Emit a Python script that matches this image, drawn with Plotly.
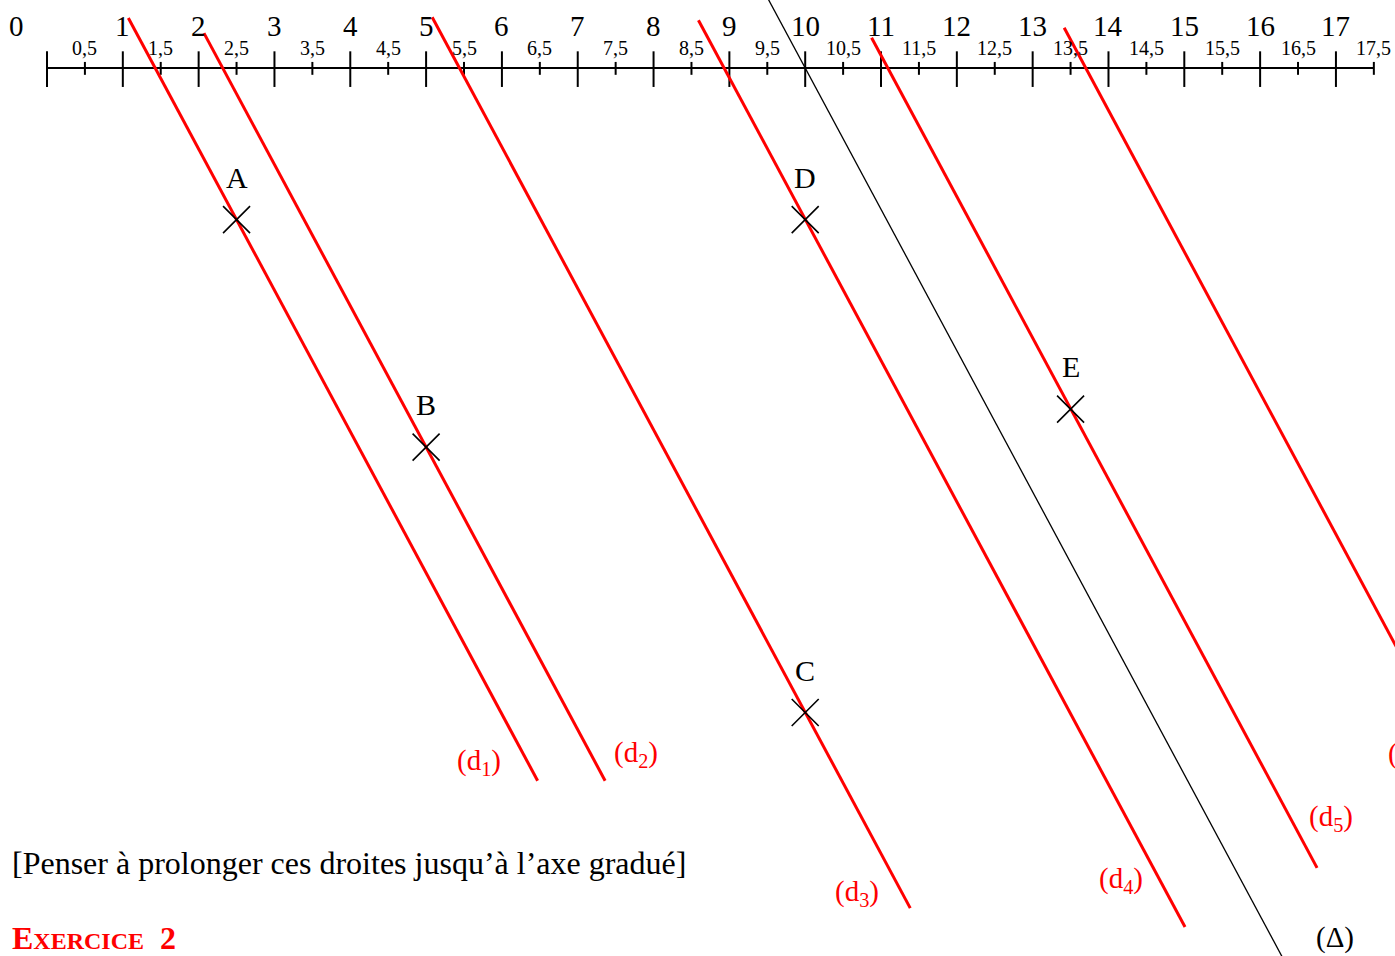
import plotly.graph_objects as go

# ---------------- data (graduation units) ----------------
int_ticks = list(range(0, 18))
int_labels = [str(i) for i in int_ticks]
half_ticks = [i + 0.5 for i in range(0, 18)]
half_labels = [("%g" % h).replace(".", ",") for h in half_ticks]

point_names = ["A", "B", "C", "D", "E"]
point_x = [2.5, 5.0, 10.0, 10.0, 13.5]
point_y = [-2.0, -5.0, -8.5, -2.0, -4.5]

slope_k = 0.5366  # horizontal shift per unit going down (parallel to Delta)

line_names = ["d1", "d2", "d3", "d4", "d5", "d6"]
line_cross = [1.427, 2.317, 5.44, 8.93, 11.09, 13.70]   # crossing on graduated axis
line_top = [0.66, 0.46, 0.67, 0.63, 0.40, 0.53]
line_bottom = [-9.40, -9.40, -11.08, -11.33, -10.55, -12.5]
line_label_x = [5.70, 7.77, 10.68, 14.17, 16.93, 17.66]
line_label_y = [-9.15, -9.05, -10.88, -10.71, -9.89, -9.06]

delta_cross = 10.0
delta_top = 1.2
delta_bottom = -12.5

RED = "#ff0000"
SERIF = "Liberation Serif, Times New Roman, serif"

fig = go.Figure()

# graduated axis
fig.add_trace(go.Scatter(x=[0, 17.5], y=[0, 0], mode="lines",
                         line=dict(color="black", width=2), hoverinfo="skip"))
tx, ty = [], []
for t in int_ticks:
    tx += [t, t, None]
    ty += [0.22, -0.25, None]
for t in half_ticks:
    tx += [t, t, None]
    ty += [0.08, -0.09, None]
fig.add_trace(go.Scatter(x=tx, y=ty, mode="lines",
                         line=dict(color="black", width=2), hoverinfo="skip"))

# Delta
fig.add_trace(go.Scatter(
    x=[delta_cross - slope_k * delta_top, delta_cross - slope_k * delta_bottom],
    y=[delta_top, delta_bottom], mode="lines",
    line=dict(color="black", width=1.3), hoverinfo="skip"))

# red parallels
for c, t, b in zip(line_cross, line_top, line_bottom):
    fig.add_trace(go.Scatter(x=[c - slope_k * t, c - slope_k * b], y=[t, b],
                             mode="lines", line=dict(color=RED, width=3),
                             hoverinfo="skip"))

# points
fig.add_trace(go.Scatter(x=point_x, y=point_y, mode="markers",
                         marker=dict(symbol="x-thin", size=27,
                                     line=dict(color="black", width=1.6)),
                         hoverinfo="skip"))

ann = []
for t, lab in zip(int_ticks, int_labels):
    ann.append(dict(x=(t if t != 0 else -0.4), y=0.56, text=lab, showarrow=False,
                    font=dict(family=SERIF, size=29, color="black"),
                    xanchor="center", yanchor="middle"))
for t, lab in zip(half_ticks, half_labels):
    ann.append(dict(x=t, y=0.27, text=lab, showarrow=False,
                    font=dict(family=SERIF, size=20, color="black"),
                    xanchor="center", yanchor="middle"))
for n, x, y in zip(point_names, point_x, point_y):
    ann.append(dict(x=x, y=y + 0.56, text=n, showarrow=False,
                    font=dict(family=SERIF, size=30, color="black"),
                    xanchor="center", yanchor="middle"))
for i, (n, x, y) in enumerate(zip(line_names, line_label_x, line_label_y)):
    ann.append(dict(x=x, y=y, text="(d<sub>%s</sub>)" % n[1:], showarrow=False,
                    font=dict(family=SERIF, size=29, color=RED),
                    xanchor=("left" if i == 5 else "center"), yanchor="middle"))
ann.append(dict(x=16.99, y=-11.47, text="(Δ)", showarrow=False,
                font=dict(family=SERIF, size=29, color="black"),
                xanchor="center", yanchor="middle"))
ann.append(dict(x=-0.49, y=-10.49,
                text="[Penser à prolonger ces droites jusqu’à l’axe gradué]",
                showarrow=False, font=dict(family=SERIF, size=32, color="black"),
                xanchor="left", yanchor="middle"))
ann.append(dict(x=-0.49, y=-11.47,
                text="<b>E<span style='font-size:24px'>XERCICE</span>  2</b>",
                showarrow=False, font=dict(family=SERIF, size=32, color=RED),
                xanchor="left", yanchor="middle"))

fig.update_layout(
    width=1395, height=956,
    margin=dict(l=0, r=0, t=0, b=0),
    paper_bgcolor="white", plot_bgcolor="white",
    showlegend=False,
    xaxis=dict(range=[-47 / 75.82, (1395 - 47) / 75.82], visible=False, fixedrange=True),
    yaxis=dict(range=[(68 - 956) / 75.82, 68 / 75.82], visible=False, fixedrange=True),
    annotations=ann,
)

fig.write_html("out.html", config={"displayModeBar": False},
               post_script="document.body.style.margin='0px';document.body.style.overflow='hidden';")
